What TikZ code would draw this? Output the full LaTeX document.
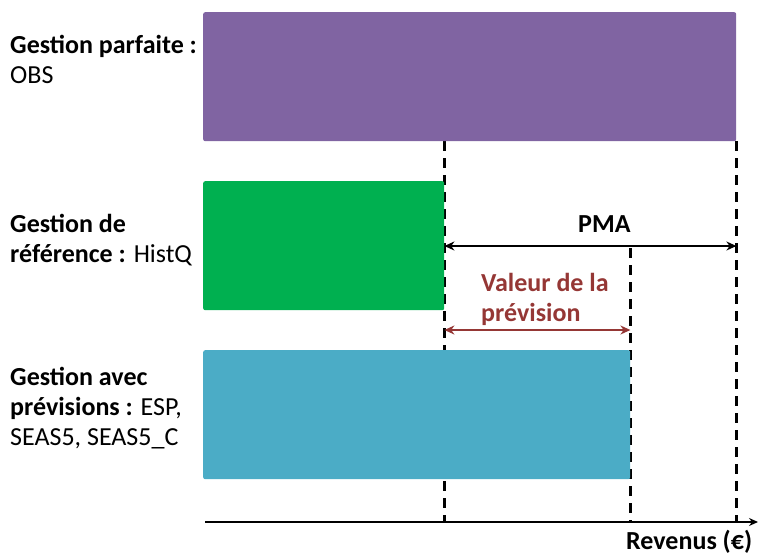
\documentclass[tikz,border=0pt]{standalone}
\usepackage{fontspec}
\setmainfont{Carlito}
\usepackage{xcolor}
\usetikzlibrary{arrows.meta, positioning, calc, backgrounds}
\definecolor{obspurple}{HTML}{8064A2}
\definecolor{histgreen}{HTML}{00B050}
\definecolor{prevblue}{HTML}{4BACC6}
\definecolor{valred}{HTML}{953735}

\begin{document}
\begin{tikzpicture}[
    x=1pt, y=-1pt,
    bar/.style={rounded corners=2pt, inner sep=0pt, minimum height=129pt,
                anchor=north west},
    lab/.style={anchor=base west, align=left, inner sep=0pt,
                font=\fontsize{26}{30}\selectfont},
    guide/.style={line width=2.2pt, dash pattern=on 10pt off 7pt},
    span/.style={{Stealth[length=10pt,width=9pt]}-{Stealth[length=10pt,width=9pt]},
                 line width=2pt},
]
\useasboundingbox (0,0) rectangle (759,556);

% barres
\node[bar, fill=obspurple, minimum width=533pt] (obs) at (203,12) {};
\node[bar, fill=histgreen, minimum width=241pt] (hist) at (203,181) {};
\node[bar, fill=prevblue, minimum width=427pt] (prev) at (203,350) {};

% axe des revenus
\coordinate (axstart) at (205,522);
\coordinate (axend) at (758,522);
\draw[-{Stealth[length=9pt,width=8pt]}, line width=2pt] (axstart) -- (axend);

% ecarts
\coordinate (pmaleft) at (hist.east |- 0,246);
\coordinate (pmaright) at (obs.east |- 0,246);
\draw[span] (pmaleft) -- (pmaright);
\coordinate (valleft) at (hist.east |- 0,330);
\coordinate (valright) at (prev.east |- 0,330);
\draw[span, valred] (valleft) -- (valright);

% pointilles
\begin{scope}[on background layer]
\draw[guide] (hist.east |- obs.south) -- (hist.east |- axstart);
\draw[guide] (obs.south east) -- (obs.south east |- axstart);
\draw[guide] (prev.east |- 0,248) -- (prev.east |- axstart);
\end{scope}

% textes (ancre = ligne de base de la derniere ligne)
\node[lab] (lobs) at (10,84) {\textbf{Gestion parfaite :}\\OBS};
\node[lab] (lhist) at (10,262) {\textbf{Gestion de}\\\textbf{référence :} HistQ};
\node[lab] (lprev) at (10,445) {\textbf{Gestion avec}\\\textbf{prévisions :} ESP,\\SEAS5, SEAS5\_C};
\node[lab, font=\fontsize{26}{30}\selectfont\bfseries] (pma) at (578,232) {PMA};
\node[lab, font=\fontsize{26}{30}\selectfont\bfseries, text=valred] (val) at (481,321)
    {Valeur de la\\prévision};
\node[lab, font=\fontsize{26}{30}\selectfont\bfseries] (rev) at (626,549) {Revenus (€)};
\end{tikzpicture}
\end{document}
